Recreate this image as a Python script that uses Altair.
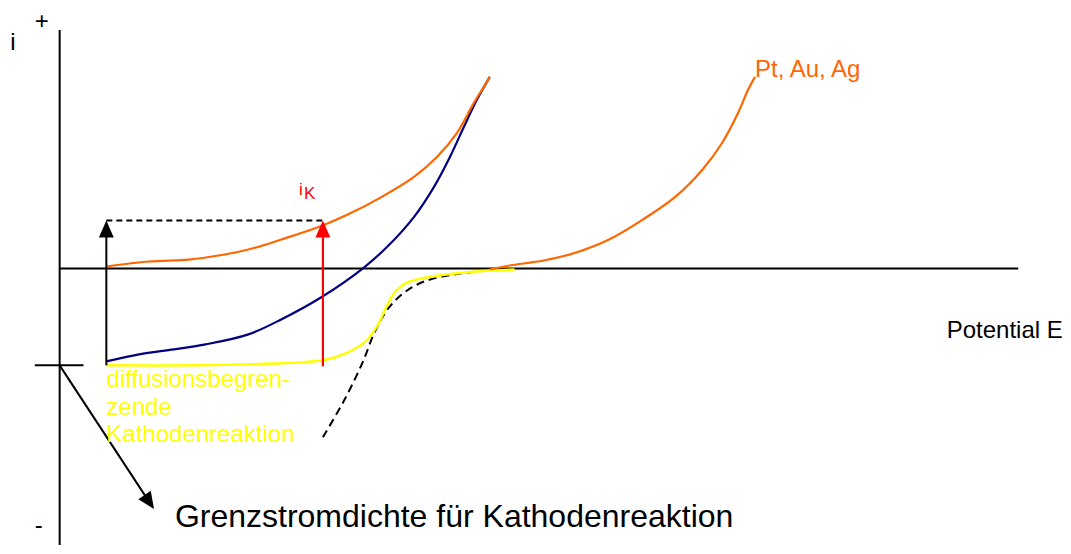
import altair as alt
import pandas as pd

# ---- curve data (E = potential, i = current density, arbitrary units) ----
orange1_E = [4.7, 9.0, 13.0, 16.0, 19.0, 22.3, 26.2, 29.0, 32.3, 35.7, 38.0, 40.0, 41.7, 42.7, 43.3]
orange1_i = [0.2, 0.7, 0.9, 1.3, 1.9, 2.9, 4.2, 5.4, 7.1, 9.2, 11.2, 13.6, 16.6, 18.2, 19.2]

blue_E = [4.7, 8.0, 11.5, 14.7, 19.0, 22.3, 26.3, 30.5, 33.0, 35.7, 37.7, 39.3, 40.7, 42.0, 43.3]
blue_i = [-9.3, -8.6, -8.1, -7.6, -6.6, -5.1, -2.9, 0.0, 2.2, 5.2, 8.2, 11.2, 14.2, 16.9, 19.2]

yellow_E = [4.7, 14.0, 19.0, 26.5, 28.8, 30.8, 32.0, 33.0, 33.8, 35.0, 37.5, 40.7, 43.3, 45.8]
yellow_i = [-9.7, -9.7, -9.6, -9.2, -8.5, -7.3, -5.7, -3.6, -2.3, -1.4, -0.8, -0.4, -0.2, -0.1]

dashed_E = [26.5, 28.7, 30.5, 31.7, 33.0, 34.7, 36.7, 39.7, 43.0]
dashed_i = [-16.9, -13.1, -9.4, -6.4, -4.1, -2.4, -1.3, -0.6, -0.2]

orange2_E = [43.3, 45.3, 48.7, 52.0, 55.3, 58.7, 62.0, 64.7, 66.7, 68.3, 69.3, 70.0]
orange2_i = [-0.1, 0.3, 0.8, 1.6, 2.9, 4.9, 7.2, 9.9, 12.6, 15.6, 17.9, 19.2]

# key levels
i_limit = -9.7      # limiting (diffusion) current density
i_K = 4.8           # cathodic current level marked by the arrows
E_start = 4.7
E_K = 26.5
E_axis_end = 96.5

labels = ["i", "+", "-", "Potential E", "Pt, Au, Ag",
          "Grenzstromdichte für Kathodenreaktion"]
yellow_lines = ["diffusionsbegren-", "zende", "Kathodenreaktion"]

xs = alt.Scale(domain=[-5.2, 100.3], nice=False, zero=False)
ys = alt.Scale(domain=[-27.7, 26.1], nice=False, zero=False)

X = lambda f: alt.X(f, type="quantitative", scale=xs, axis=None)
Y = lambda f: alt.Y(f, type="quantitative", scale=ys, axis=None)


def curve(E, I, color, dash=None, width=2.2):
    df = pd.DataFrame({"E": E, "i": I, "o": list(range(len(E)))})
    kw = dict(color=color, strokeWidth=width, interpolate="catmull-rom")
    if dash:
        kw["strokeDash"] = dash
    return alt.Chart(df).mark_line(**kw).encode(x=X("E"), y=Y("i"), order="o:Q")


def seg(rows, color, width=2.2, dash=None):
    df = pd.DataFrame(rows, columns=["E", "i", "E2", "i2"])
    kw = dict(color=color, strokeWidth=width)
    if dash:
        kw["strokeDash"] = dash
    return alt.Chart(df).mark_rule(**kw).encode(
        x=X("E"), y=Y("i"), x2="E2:Q", y2="i2:Q")


def head(E, I, angle, color, size=740):
    df = pd.DataFrame({"E": [E], "i": [I]})
    return alt.Chart(df).mark_point(
        shape="M0,0L-0.55,1.25L0.55,1.25Z", filled=True, opacity=1,
        color=color, size=size, angle=angle, strokeWidth=0
    ).encode(x=X("E"), y=Y("i"))


def text(E, I, s, color="black", size=24, align="left", baseline="alphabetic"):
    df = pd.DataFrame({"E": [E], "i": [I], "t": [s]})
    return alt.Chart(df).mark_text(
        font="Liberation Sans", fontSize=size, color=color, align=align,
        baseline=baseline
    ).encode(x=X("E"), y=Y("i"), text="t:N")


axes = seg([[0, 23.9, 0, -27.7],
            [0, 0, E_axis_end, 0],
            [-2.5, i_limit, 2.4, i_limit]], "black", 2)

arrow_black = seg([[E_start, i_limit, E_start, i_K - 1.2]], "black", 2)
dashed_h = seg([[E_start, i_K, E_K, i_K]], "black", 2, dash=[6, 4])
arrow_red = seg([[E_K, -9.8, E_K, i_K - 1.2]], "#FF0000", 2.2)
arrow_diag = seg([[0, i_limit, 8.7, -22.9]], "black", 2)

layers = [
    axes,
    curve(blue_E, blue_i, "#000080"),
    curve(orange1_E, orange1_i, "#FF6600"),
    curve(dashed_E, dashed_i, "black", dash=[8, 5], width=2),
    curve(yellow_E, yellow_i, "#FFFF00", width=2.5),
    curve(orange2_E, orange2_i, "#FF6600"),
    arrow_black, dashed_h, arrow_red, arrow_diag,
    head(E_start, i_K, 0, "black"),
    head(E_K, i_K, 0, "#FF0000"),
    head(9.5, -24.1, 146, "black"),
    text(-4.7, 21.9, labels[0], align="center"),
    text(-1.8, 24.0, labels[1], align="center"),
    text(-2.1, -26.5, labels[2], align="center"),
    text(89.3, -7.0, labels[3]),
    text(70.0, 19.2, labels[4], color="#FF6600"),
    text(11.6, -25.9, labels[5], size=32),
    text(E_start, -11.9, yellow_lines[0], color="#FFFF00"),
    text(E_start, -14.7, yellow_lines[1], color="#FFFF00"),
    text(E_start, -17.4, yellow_lines[2], color="#FFFF00"),
    text(24.1, 7.4, "i", color="#FF0000", size=17),
    text(24.6, 7.0, "K", color="#FF0000", size=17),
]

chart = alt.layer(*layers).properties(
    width=1055, height=538,
    autosize=alt.AutoSizeParams(type="fit", contains="padding"),
    padding=0,
).configure_view(stroke=None)

chart.save("out.html", embed_options={"renderer": "svg", "actions": False})
